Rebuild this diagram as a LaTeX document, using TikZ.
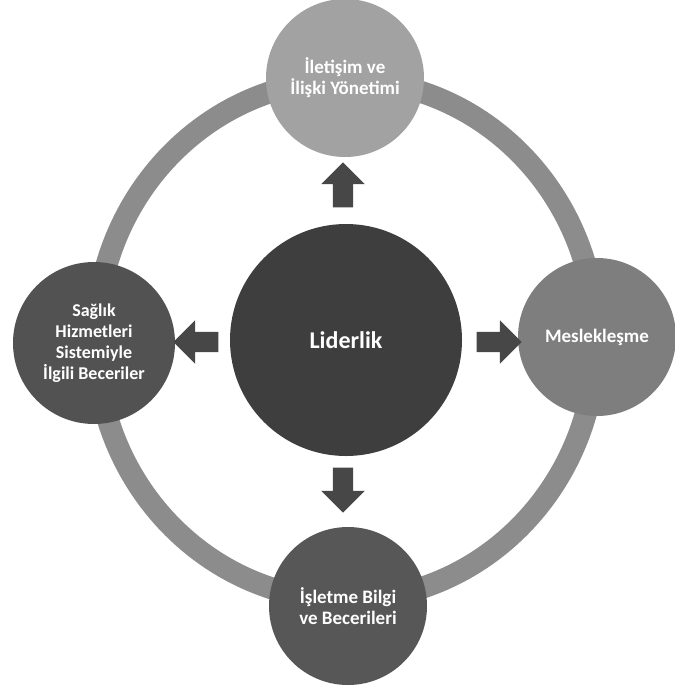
\documentclass[tikz,border=0pt]{standalone}
\usepackage{fontspec}
\setmainfont{Carlito}
\usetikzlibrary{shapes.arrows}
\definecolor{ringc}{HTML}{8C8C8C}
\definecolor{centc}{HTML}{3E3E3E}
\definecolor{topc}{HTML}{A2A2A2}
\definecolor{rightc}{HTML}{7E7E7E}
\definecolor{leftc}{HTML}{525252}
\definecolor{botc}{HTML}{575757}
\definecolor{arrc}{HTML}{474747}
\tikzset{
  x=1pt,y=-1pt,
  sat/.style={circle,minimum size=158pt,inner sep=0pt,text=white,font=\bfseries\fontsize{19}{21}\selectfont,align=center},
  blockarrow/.style={single arrow,fill=arrc,draw=none,inner sep=10pt,single arrow head extend=11.5pt,minimum height=45pt,text width=0pt}
}
\begin{document}
\begin{tikzpicture}
\useasboundingbox (0,0) rectangle (675,686);
\coordinate (c) at (346,340);
\draw[ringc,line width=22pt] (c) ellipse [x radius=250, y radius=260];
\node[circle,fill=centc,minimum size=232pt,inner sep=0pt,text=white,font=\bfseries\fontsize{24}{28}\selectfont] (lid) at (c) {Liderlik};
\node[sat,fill=topc] (top) at (345,78) {İletişim ve\\İlişki Yönetimi};
\node[sat,fill=leftc,minimum size=162pt,font=\bfseries\fontsize{18}{21}\selectfont] (left) at (94,343) {Sağlık\\Hizmetleri\\Sistemiyle\\İlgili Beceriler};
\node[sat,fill=rightc] (right) at (597,337) {Meslekleşme};
\node[sat,fill=botc] (bot) at (348,606) {İşletme Bilgi\\ve Becerileri};
\node[blockarrow,shape border rotate=90] (au) at (343,190) {};
\node[blockarrow,shape border rotate=180] (al) at (201,342) {};
\node[blockarrow,shape border rotate=0] (ar) at (494,342) {};
\node[blockarrow,shape border rotate=270] (ad) at (343,485) {};
\end{tikzpicture}
\end{document}
